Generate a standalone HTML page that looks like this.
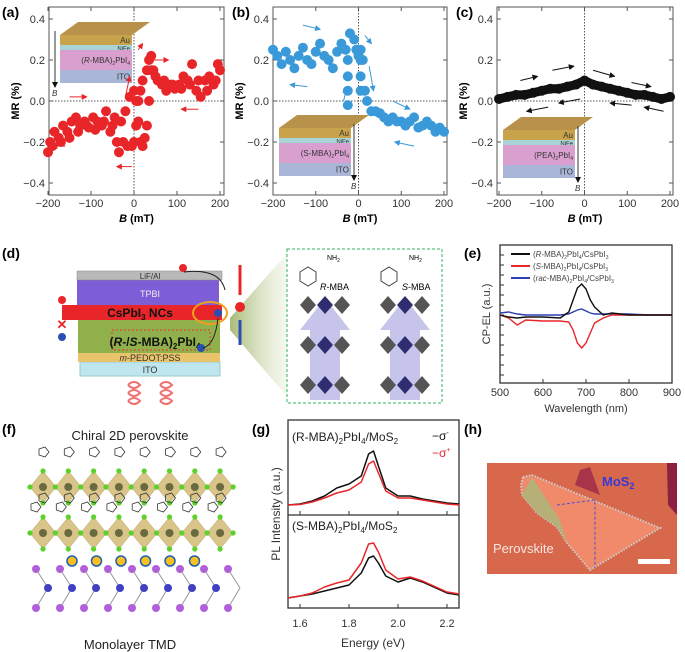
<!DOCTYPE html>
<html><head><meta charset="utf-8">
<style>
html,body{margin:0;padding:0;background:#fff;}
svg{display:block;font-family:"Liberation Sans",Arial,sans-serif;}
</style></head>
<body>
<svg id="fig" width="685" height="652" viewBox="0 0 685 652" xmlns="http://www.w3.org/2000/svg">
<defs>
<marker id="ahR" markerWidth="6" markerHeight="6" refX="5" refY="3" orient="auto"><path d="M0,0 L6,3 L0,6z" fill="#e8262a"/></marker>
<marker id="ahB" markerWidth="6" markerHeight="6" refX="5" refY="3" orient="auto"><path d="M0,0 L6,3 L0,6z" fill="#3a9ad9"/></marker>
<marker id="ahK" markerWidth="6" markerHeight="6" refX="5" refY="3" orient="auto"><path d="M0,0 L6,3 L0,6z" fill="#111"/></marker>
<linearGradient id="fan" x1="0" x2="1"><stop offset="0" stop-color="#9fb36a" stop-opacity="0.9"/><stop offset="1" stop-color="#e6edd5" stop-opacity="0.3"/></linearGradient>
</defs>

<text x="2" y="17" font-size="14" font-weight="bold">(a)</text>
<text x="232" y="17" font-size="14" font-weight="bold">(b)</text>
<text x="456" y="17" font-size="14" font-weight="bold">(c)</text>
<text x="2" y="258" font-size="14" font-weight="bold">(d)</text>
<text x="464" y="258" font-size="14" font-weight="bold">(e)</text>
<text x="2" y="434" font-size="14" font-weight="bold">(f)</text>
<text x="252" y="434" font-size="14" font-weight="bold">(g)</text>
<text x="464" y="434" font-size="14" font-weight="bold">(h)</text>

<g id="mrA"></g>
<g id="mrB"></g>
<g id="mrC"></g>

<g>
  <polygon points="230,318 290,250 290,400 230,330" fill="url(#fan)"/>
  <rect x="80" y="362" width="140" height="14" fill="#bfe6ef" stroke="#9cc"/>
  <text x="150" y="373" font-size="9" text-anchor="middle" fill="#333">ITO</text>
  <rect x="78" y="352" width="142" height="10" fill="#e9c46a"/>
  <text x="150" y="361" font-size="9" text-anchor="middle" fill="#333" font-style="italic">m<tspan font-style="normal">-PEDOT:PSS</tspan></text>
  <rect x="78" y="320" width="142" height="33" fill="#8fb04a"/>
  <rect x="112" y="330" width="98" height="20" fill="none" stroke="#e33" stroke-dasharray="2,2"/>
  <text x="155" y="346" font-size="12" font-weight="bold" text-anchor="middle" fill="#111">(<tspan font-style="italic">R</tspan>-/<tspan font-style="italic">S</tspan>-MBA)<tspan font-size="8" dy="3">2</tspan><tspan dy="-3">PbI</tspan><tspan font-size="8" dy="3">4</tspan></text>
  <rect x="62" y="305" width="160" height="15" fill="#e8262a"/>
  <text x="140" y="317" font-size="12" font-weight="bold" text-anchor="middle" fill="#111">CsPbI<tspan font-size="8" dy="3">3</tspan><tspan dy="-3"> NCs</tspan></text>
  <rect x="77" y="280" width="142" height="25" fill="#7e5ed6"/>
  <text x="150" y="297" font-size="9" text-anchor="middle" fill="#eee">TPBI</text>
  <rect x="77" y="271" width="145" height="9" fill="#b9b9b9" stroke="#888" stroke-width="0.5"/>
  <text x="150" y="279" font-size="8" text-anchor="middle" fill="#333">LiF/Al</text>
  <ellipse cx="210" cy="313" rx="17" ry="11" fill="none" stroke="#f0a020" stroke-width="2"/>
  <circle cx="183" cy="268" r="4" fill="#e8262a"/><circle cx="205" cy="313" r="4" fill="#e8262a"/><circle cx="218" cy="313" r="4" fill="#2b4fb0"/>
  <circle cx="201" cy="348" r="4" fill="#2b4fb0"/>
  <circle cx="62" cy="300" r="4" fill="#e8262a"/><text x="62" y="329" font-size="13" fill="#e8262a" text-anchor="middle" font-weight="bold">✕</text><circle cx="62" cy="337" r="4" fill="#2b4fb0"/>
  <path d="M184,272 Q220,268 225,290" fill="none" stroke="#222" stroke-width="1"/>
  <path d="M218,318 Q215,345 203,348" fill="none" stroke="#222" stroke-width="1"/>
  <line x1="240" y1="265" x2="240" y2="295" stroke="#e8262a" stroke-width="3"/>
  <line x1="240" y1="345" x2="240" y2="320" stroke="#2b4fb0" stroke-width="3"/>
  <circle cx="240" cy="307" r="5" fill="#e8262a"/>
  <path d="M128,385 q6,-6 12,0 q-6,6 -12,0 m0,8 q6,-6 12,0 q-6,6 -12,0 m0,8 q6,-6 12,0 q-6,6 -12,0" fill="none" stroke="#f07070" stroke-width="2"/>
  <path d="M160,385 q6,-6 12,0 q-6,6 -12,0 m0,8 q6,-6 12,0 q-6,6 -12,0 m0,8 q6,-6 12,0 q-6,6 -12,0" fill="none" stroke="#f07070" stroke-width="2"/>
  <rect x="287" y="249" width="155" height="154" fill="#fff" stroke="#33b060" stroke-dasharray="3,2"/>
  <text x="327" y="260" font-size="7">NH<tspan font-size="5" dy="2">2</tspan></text>
  <text x="409" y="260" font-size="7">NH<tspan font-size="5" dy="2">2</tspan></text>
  <polygon points="300,272 308,267 316,272 316,281 308,286 300,281" fill="none" stroke="#444"/>
  <polygon points="381,272 389,267 397,272 397,281 389,286 381,281" fill="none" stroke="#444"/>
  <text x="320" y="290" font-size="9"><tspan font-style="italic">R</tspan>-MBA</text>
  <text x="402" y="290" font-size="9"><tspan font-style="italic">S</tspan>-MBA</text>
  <g id="octD"></g>
</g>

<g id="elE"></g>

<g id="structF">
  <text x="130" y="440" font-size="13" text-anchor="middle" fill="#222">Chiral 2D perovskite</text>
  <text x="130" y="649" font-size="13" text-anchor="middle" fill="#222">Monolayer TMD</text>
</g>

<g id="plG"></g>

<g>
  <rect x="487" y="463" width="190" height="111" fill="#d8684c"/>
  <polygon points="580,470 590,467 600,495 575,485" fill="#a8344a"/>
  <polygon points="667,463 677,463 677,515 668,505" fill="#8b2040"/>
  <polygon points="523,477 532,475 660,528 590,570 567,543 557,527 537,513 522,495 521,485" fill="#f08a6a" stroke="#ccc" stroke-width="2" stroke-dasharray="1.5,1.5"/>
  <polygon points="532,477 560,520 567,543 557,527 537,513 522,495" fill="#a8b87a" opacity="0.8"/>
  <polyline points="557,505 595,500 595,568" fill="none" stroke="#5050d0" stroke-dasharray="3,2"/>
  <text x="602" y="486" font-size="13" font-weight="bold" fill="#3838d8">MoS<tspan font-size="9" dy="3">2</tspan></text>
  <text x="493" y="553" font-size="13" fill="#f6e6e0">Perovskite</text>
  <rect x="638" y="559" width="32" height="5" fill="#fff"/>
</g>
</svg>

<script>
// ---------- Data ----------
const mrTicks = [-0.4, -0.2, 0.0, 0.2, 0.4];
const mrTickLabels = ["\u22120.4", "\u22120.2", "0.0", "0.2", "0.4"];
const bTicks = [-200, -100, 0, 100, 200];
const bTickLabels = ["\u2212200", "\u2212100", "0", "100", "200"];

const aField = [-200,-195,-185,-175,-165,-155,-145,-135,-125,-115,-105,-95,-85,-75,-65,-55,-45,-40,-35,-25,-15,-5,0,5,10,15,20,30,35,40,45,55,65,75,85,95,105,115,125,135,145,155,165,175,185,195,200,190,170,150,130,110,90,70,50,40,35,30,25,20,15,10,5,0,-10,-20,-30,-50,-70,-90,-110,-130,-150,-170,-190];
const aMR = [-0.25,-0.2,-0.15,-0.18,-0.12,-0.15,-0.1,-0.08,-0.12,-0.1,-0.13,-0.08,-0.1,-0.12,-0.05,-0.15,-0.08,-0.2,-0.25,-0.2,-0.22,-0.22,-0.2,-0.12,0.0,0.05,0.1,0.15,0.2,0.22,0.15,0.1,0.08,0.05,0.08,0.06,0.08,0.12,0.1,0.18,0.05,0.02,0.1,0.12,0.08,0.18,0.15,0.1,0.05,0.1,0.08,0.06,0.08,0.1,0.12,0.15,0.0,-0.12,-0.18,-0.22,-0.2,-0.1,0.0,0.05,0.02,-0.05,-0.1,-0.12,-0.1,-0.14,-0.12,-0.15,-0.18,-0.2,-0.22];

const bField = [-200,-190,-180,-170,-160,-150,-140,-130,-120,-110,-100,-90,-80,-70,-60,-50,-40,-30,-20,-10,-5,0,5,10,15,20,30,40,50,60,70,80,90,100,110,120,130,140,150,160,170,180,190,200,-25,-25,-25,-25,5,5,5];
const bMR = [0.25,0.22,0.18,0.24,0.2,0.16,0.22,0.26,0.2,0.18,0.24,0.28,0.22,0.2,0.16,0.24,0.28,0.25,0.33,0.3,0.25,0.22,0.25,0.2,0.05,0.0,-0.05,-0.05,-0.06,-0.08,-0.1,-0.08,-0.1,-0.1,-0.12,-0.1,-0.08,-0.13,-0.12,-0.1,-0.12,-0.15,-0.13,-0.15,0.2,0.12,0.05,-0.02,0.2,0.12,0.05];

const cField = [-200,-180,-160,-140,-120,-100,-80,-60,-40,-20,0,20,40,60,80,100,120,140,160,180,200];
const cMR = [0.01,0.02,0.03,0.03,0.04,0.05,0.06,0.06,0.07,0.08,0.1,0.08,0.07,0.06,0.05,0.04,0.03,0.03,0.02,0.01,0.02];

const eWave = [500,520,540,560,600,640,660,670,680,690,700,710,720,740,760,800,850,900];
const eR = [0,-0.2,-0.3,-0.2,-0.2,-0.3,0.3,1.5,2.7,3.1,2.6,1.5,0.8,0,0.2,0,0,0];
const eS = [0,-0.3,-1,-0.5,-0.6,-0.6,-0.7,-1.5,-2.8,-3.3,-2.8,-1.8,-0.8,-0.3,0,0,0,0];
const eRac = [0.2,0.3,0.1,0,0,0,0.1,0.3,0.5,0.6,0.4,0.2,0.1,0.1,0.1,0.1,0,0];
const eTicks = [500,600,700,800,900];
const eLegend = ["(R-MBA)2PbI4/CsPbI3","(S-MBA)2PbI4/CsPbI3","(rac-MBA)2PbI4/CsPbI3"];

const gEnergy = [1.55,1.6,1.65,1.7,1.75,1.8,1.85,1.88,1.9,1.92,1.95,2.0,2.05,2.1,2.2,2.25];
const gRminus = [1,2,5,10,18,22,30,52,55,40,18,10,10,7,3,2];
const gRplus = [1,1.5,4,8,13,16,24,42,45,33,15,8,8,6,2,1];
const gSminus = [0,2,4,7,10,13,25,40,42,35,22,16,20,16,5,3];
const gSplus = [0,2,5,11,15,18,35,54,55,46,28,19,21,17,6,4];
const gTicks = [1.6,1.8,2.0,2.2];

const NS = "http://www.w3.org/2000/svg";
function el(tag, attrs, parent){ const e=document.createElementNS(NS,tag); for(const k in attrs) e.setAttribute(k,attrs[k]); parent.appendChild(e); return e; }

function mrPanel(gid, left, right, x0, x200, data, fld, color, arrowColor, inset, arrows){
  const g=document.getElementById(gid);
  const top=7, bot=195;
  const xs=v=>x0+(v+200)/400*(x200-x0);
  const ys=v=>101 - v*205;
  const fr=el("rect",{x:left,y:top,width:right-left,height:bot-top,fill:"none",stroke:"#555","stroke-width":1},g);
  
  
  el("line",{x1:left,x2:right,y1:ys(0),y2:ys(0),stroke:"#555","stroke-dasharray":"1.5,1.5"},g);
  el("line",{x1:xs(0),x2:xs(0),y1:top,y2:bot,stroke:"#555","stroke-dasharray":"1.5,1.5"},g);
  mrTicks.forEach((t,i)=>{
    el("line",{x1:left,x2:left+4,y1:ys(t),y2:ys(t),stroke:"#555"},g);
    el("line",{x1:right,x2:right-4,y1:ys(t),y2:ys(t),stroke:"#555"},g);
    const tx=el("text",{x:left-4,y:ys(t)+4,"font-size":11,"text-anchor":"end",fill:"#333"},g);
    tx.textContent=mrTickLabels[i];
    
    
  });
  bTicks.forEach((t,i)=>{
    el("line",{x1:xs(t),x2:xs(t),y1:bot,y2:bot-4,stroke:"#555"},g);
    el("line",{x1:xs(t),x2:xs(t),y1:top,y2:top+4,stroke:"#555"},g);
    const tx=el("text",{x:xs(t),y:bot+12,"font-size":11,"text-anchor":"middle",fill:"#333"},g);
    tx.textContent=bTickLabels[i];
    
    
  });
  const yt=el("text",{x:0,y:0,"font-size":11,"font-weight":"bold","text-anchor":"middle",transform:`translate(${left-30},101) rotate(-90)`},g);
  yt.textContent="MR (%)";
  
  
  const xt=el("text",{x:(left+right)/2,y:222,"font-size":11,"font-weight":"bold","text-anchor":"middle"},g);
  xt.innerHTML='<tspan font-style="italic">B</tspan> (mT)';
  
  
  const ig=el("g",{},g);
  
  
  const ix=inset[0], iy=inset[1], lab=inset[2]; const w=72, d=13;
  const layers=[["#c9a24c",10,"Au"],["#a8d4d8",5,"NiFe"],["#d9a0cf",20,lab],["#a9b6d8",13,"ITO"]];
  el("polygon",{points:`${ix},${iy+d} ${ix+d+5},${iy} ${ix+w+d+5},${iy} ${ix+w},${iy+d}`,fill:"#b8924a"},ig);
  let yy=iy+d;
  layers.forEach(L=>{
    el("rect",{x:ix,y:yy,width:w,height:L[1],fill:L[0]},ig);
    const t=el("text",{x:ix+w-2,y:yy+L[1]/2+3,"font-size":Math.min(8,L[1]+1),"text-anchor":"end",fill:"#333"},ig);
    t.innerHTML=L[2];
    yy+=L[1];
  });
  const arx = inset[3]==="left"? ix-5 : ix+w+3;
  el("line",{x1:arx,x2:arx,y1:iy+d-4,y2:yy+4,stroke:"#333","marker-end":"url(#ahK)"},ig);
  const bl=el("text",{x:arx-3,y:yy+13,"font-size":8,"font-style":"italic",fill:"#333"},ig); bl.textContent="B";
  arrows.forEach(a=>{
    const ar=el("line",{x1:xs(a[0]),y1:ys(a[1]),x2:xs(a[2]),y2:ys(a[3]),stroke:arrowColor,"stroke-width":1,"marker-end":`url(#${a[4]})`},g);
    
    
  });
  if(gid==="mrC"){
    const pts=fld.map((v,i)=>xs(v)+","+ys(data[i])).join(" ");
    const pl=el("polyline",{points:pts,fill:"none",stroke:color,"stroke-width":9,"stroke-linejoin":"round","stroke-linecap":"round"},g);
    
    
  }
  fld.forEach((v,i)=>{
    const c=el("circle",{cx:xs(v),cy:ys(data[i]),r:5,fill:color},g);
    
    
  });
}
mrPanel("mrA",49,224,48,220,aMR,aField,"#e8262a","#e8262a",[60,22,"(<tspan font-style='italic'>R</tspan>-MBA)<tspan font-size='5' dy='2'>2</tspan><tspan dy='-2'>PbI</tspan><tspan font-size='5' dy='2'>4</tspan>","left"],
 [[-160,-0.22,-190,-0.22,"ahR"],[-150,0.02,-110,0.02,"ahR"],[-5,-0.32,-40,-0.32,"ahR"],[10,0.25,20,0.28,"ahR"],[45,0.2,80,0.2,"ahR"],[150,-0.04,110,-0.04,"ahR"],[-20,0.02,-10,0.12,"ahR"]]);
mrPanel("mrB",273,447,273,444,bMR,bField,"#3a9ad9","#3a9ad9",[279,115,"(S-MBA)<tspan font-size='5' dy='2'>2</tspan><tspan dy='-2'>PbI</tspan><tspan font-size='5' dy='2'>4</tspan>","right"],
 [[-130,0.37,-90,0.35,"ahB"],[-120,0.07,-160,0.08,"ahB"],[15,0.32,30,0.28,"ahB"],[25,0.17,35,0.05,"ahB"],[80,0.0,120,-0.04,"ahB"],[130,-0.22,85,-0.2,"ahB"],[-35,0.0,-28,0.06,"ahB"]]);
mrPanel("mrC",497,673,499,670,cMR,cField,"#111","#111",[503,117,"(PEA)<tspan font-size='5' dy='2'>2</tspan><tspan dy='-2'>PbI</tspan><tspan font-size='5' dy='2'>4</tspan>","right"],
 [[-150,0.1,-110,0.12,"ahK"],[-75,0.15,-25,0.17,"ahK"],[20,0.15,70,0.12,"ahK"],[110,0.09,155,0.07,"ahK"],[-10,0.01,-60,-0.01,"ahK"],[-85,-0.03,-135,-0.05,"ahK"],[110,-0.02,60,-0.01,"ahK"],[185,-0.05,140,-0.03,"ahK"]]);

(function(){
  const g=document.getElementById("octD");
  [[300,350],[380,430]].forEach(col=>{
    el("polygon",{points:`${col[0]+10},400 ${col[0]+10},330 ${col[0]},330 ${(col[0]+col[1])/2},298 ${col[1]},330 ${col[1]-10},330 ${col[1]-10},400`,fill:"#b9b5e6",opacity:"0.8"},g);
    [305,345,385].forEach(y=>{
      for(let k=0;k<3;k++){
        const cx=col[0]+8+k*17;
        el("polygon",{points:`${cx},${y-9} ${cx+8},${y} ${cx},${y+9} ${cx-8},${y}`,fill:k===1?"#2e2d70":"#555"},g);
      }
    });
  });
})();

(function(){
  const g=document.getElementById("elE");
  const L=500,R=672,T=245,B=383;
  const xs=v=>L+(v-500)/400*(R-L);
  const ys=v=>315-v*10;
  const fr=el("rect",{x:L,y:T,width:R-L,height:B-T,fill:"none",stroke:"#333","stroke-width":1.3},g);
  
  
  for(let v=-6;v<=6;v++){ const yv=ys(v); if(yv>T+2 && yv<B-2) el("line",{x1:L,x2:L+4,y1:yv,y2:yv,stroke:"#333"},g); }
  eTicks.forEach(t=>{
    el("line",{x1:xs(t),x2:xs(t),y1:B,y2:B-4,stroke:"#333"},g);
    const tx=el("text",{x:xs(t),y:396,"font-size":11,"text-anchor":"middle",fill:"#333"},g);
    tx.textContent=t;
    
    
  });
  const xt=el("text",{x:586,y:412,"font-size":11,"text-anchor":"middle",fill:"#333"},g);
  xt.textContent="Wavelength (nm)";
  
  
  const yt=el("text",{x:0,y:0,"font-size":11,"text-anchor":"middle",fill:"#333",transform:"translate(490,314) rotate(-90)"},g);
  yt.textContent="CP-EL (a.u.)";
  
  
  const series=[[eRac,"#2b3fb0"],[eS,"#e8262a"],[eR,"#111"]];
  series.forEach(s=>{
    const p=el("polyline",{points:eWave.map((w,i)=>xs(w)+","+ys(s[0][i])).join(" "),fill:"none",stroke:s[1],"stroke-width":1.4},g);
    
    
  });
  const cols=["#111","#e8262a","#2b3fb0"];
  const sub=(s)=>"<tspan font-size='5' dy='2'>"+s+"</tspan>";
  const labs=["(<tspan font-style='italic'>R</tspan>-MBA)"+sub(2)+"<tspan dy='-2'>PbI</tspan>"+sub(4)+"<tspan dy='-2'>/CsPbI</tspan>"+sub(3),
              "(<tspan font-style='italic'>S</tspan>-MBA)"+sub(2)+"<tspan dy='-2'>PbI</tspan>"+sub(4)+"<tspan dy='-2'>/CsPbI</tspan>"+sub(3),
              "(<tspan font-style='italic'>rac</tspan>-MBA)"+sub(2)+"<tspan dy='-2'>PbI</tspan>"+sub(4)+"<tspan dy='-2'>/CsPbI</tspan>"+sub(3)];
  eLegend.forEach((n,i)=>{
    const y=254+i*12;
    el("line",{x1:511,x2:530,y1:y,y2:y,stroke:cols[i],"stroke-width":2},g);
    const t=el("text",{x:533,y:y+3,"font-size":8,fill:"#444"},g);
    t.innerHTML=labs[i];
    
    
  });
})();

(function(){
  const g=document.getElementById("structF");
  [487,533].forEach(y=>{
    for(let i=0;i<8;i++){
      const cx=43+i*25.3;
      el("polygon",{points:`${cx},${y-16} ${cx+13},${y} ${cx},${y+16} ${cx-13},${y}`,fill:"#d9c48a",stroke:"#b8a060","stroke-width":0.5},g);
      el("circle",{cx:cx,cy:y,r:4,fill:"#6a6a40"},g);
      [[0,-16],[13,0],[0,16],[-13,0]].forEach(o=>el("circle",{cx:cx+o[0],cy:y+o[1],r:2.6,fill:"#5bd12a"},g));
      el("polygon",{points:`${cx-4},${y-38} ${cx+2},${y-40} ${cx+6},${y-35} ${cx+2},${y-30} ${cx-4},${y-32}`,fill:"none",stroke:"#333","stroke-width":0.8},g);
      if(y===533) el("polygon",{points:`${cx-12},${y-29} ${cx-6},${y-31} ${cx-2},${y-26} ${cx-6},${y-21} ${cx-12},${y-23}`,fill:"none",stroke:"#333","stroke-width":0.8},g);
    }
  });
  for(let i=0;i<6;i++){ el("circle",{cx:72+i*24.5,cy:561,r:5,fill:"#f5c020",stroke:"#1d5fb0","stroke-width":1.5},g); }
  for(let i=0;i<9;i++){
    const x=36+i*24;
    el("line",{x1:x,y1:569,x2:x+12,y2:588,stroke:"#999"},g);
    el("line",{x1:x+12,y1:588,x2:x,y2:608,stroke:"#999"},g);
    el("circle",{cx:x,cy:569,r:4,fill:"#b060d8"},g);
    el("circle",{cx:x,cy:608,r:4,fill:"#b060d8"},g);
    if(i<8) el("circle",{cx:x+12,cy:588,r:4,fill:"#4040c0"},g);
  }
})();

(function(){
  const g=document.getElementById("plG");
  const L=288,R=459,T=420,B=608,M=515;
  const xs=v=>300+(v-1.6)*245;
  const fr=el("rect",{x:L,y:T,width:R-L,height:B-T,fill:"none",stroke:"#333","stroke-width":1.3},g);
  
  
  el("line",{x1:L,x2:R,y1:M,y2:M,stroke:"#333","stroke-width":1.3},g);
  gTicks.forEach(t=>{
    el("line",{x1:xs(t),x2:xs(t),y1:B,y2:B-4,stroke:"#333"},g);
    el("line",{x1:xs(t),x2:xs(t),y1:M,y2:M-4,stroke:"#333"},g);
    const tx=el("text",{x:xs(t),y:627,"font-size":11,"text-anchor":"middle",fill:"#333"},g);
    tx.textContent=t.toFixed(1);
    
    
  });
  const xt=el("text",{x:373,y:647,"font-size":12,"text-anchor":"middle",fill:"#333"},g);
  xt.textContent="Energy (eV)";
  
  
  const yt=el("text",{x:0,y:0,"font-size":12,"text-anchor":"middle",fill:"#333",transform:"translate(280,514) rotate(-90)"},g);
  yt.textContent="PL Intensity (a.u.)";
  
  
  const series=[[gRminus,506,"#111"],[gRplus,506,"#e8262a"],[gSminus,598,"#111"],[gSplus,598,"#e8262a"]];
  series.forEach(s=>{
    const p=el("polyline",{points:gEnergy.map((e,i)=>xs(e)+","+(s[1]-s[0][i])).join(" "),fill:"none",stroke:s[2],"stroke-width":1.5,"stroke-linejoin":"round"},g);
    
    
  });
  const sub=(s)=>"<tspan font-size='8' dy='3'>"+s+"</tspan>";
  const t1=el("text",{x:292,y:441,"font-size":12,fill:"#222"},g);
  t1.innerHTML="(R-MBA)"+sub(2)+"<tspan dy='-3'>PbI</tspan>"+sub(4)+"<tspan dy='-3'>/MoS</tspan>"+sub(2);
  
  
  const t2=el("text",{x:292,y:530,"font-size":12,fill:"#222"},g);
  t2.innerHTML="(S-MBA)"+sub(2)+"<tspan dy='-3'>PbI</tspan>"+sub(4)+"<tspan dy='-3'>/MoS</tspan>"+sub(2);
  
  
  const l1=el("text",{x:432,y:440,"font-size":12,fill:"#111"},g);
  l1.innerHTML="\u2212\u03c3<tspan font-size='7' dy='-5'>-</tspan>";
  
  
  const l2=el("text",{x:432,y:457,"font-size":12,fill:"#e8262a"},g);
  l2.innerHTML="\u2212\u03c3<tspan font-size='7' dy='-5'>+</tspan>";
  
  
})();
</script>
</body></html>
